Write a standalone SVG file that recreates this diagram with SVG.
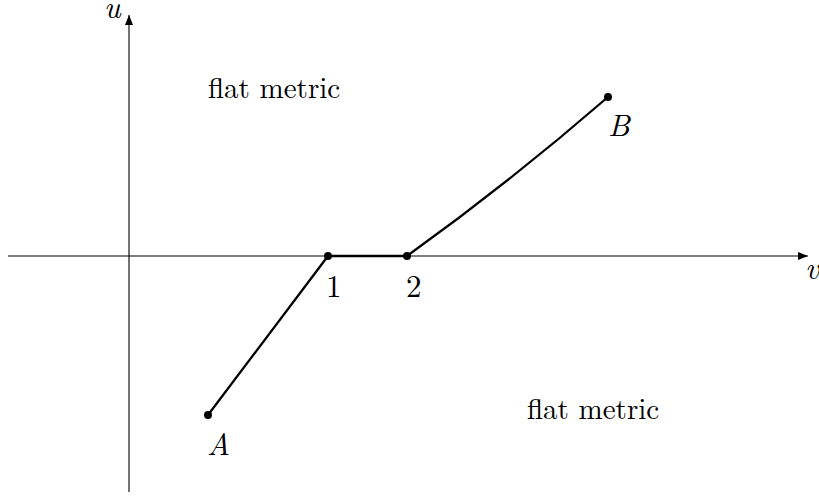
<svg xmlns="http://www.w3.org/2000/svg" width="819" height="501" viewBox="0 0 819 501">
<style>
.axis{stroke:#000;stroke-width:1.1;fill:none}
.path{stroke:#000;stroke-width:2.3;fill:none;stroke-linecap:round}
text{font-family:"Latin Modern Roman","Liberation Serif","DejaVu Serif",serif;font-size:29px;fill:#000}
.it{font-style:italic}
.lbl{font-size:31px}
</style>
<defs>
<marker id="arr" viewBox="0 0 10 10" refX="10" refY="5" markerWidth="10" markerHeight="10" markerUnits="userSpaceOnUse" orient="auto">
<path d="M0,1 L10,5 L0,9 Z" fill="#000"/>
</marker>
</defs>
<g id="connectors">
<line class="axis" x1="129" y1="492" x2="129" y2="15" marker-end="url(#arr)"/>
<line class="axis" x1="8" y1="256" x2="808" y2="256" marker-end="url(#arr)"/>
<path class="path" d="M208,415 L328,256 L407,256 Q510,182 608,97"/>
</g>
<g id="labels">
<text class="it lbl" x="104" y="18">u</text>
<text class="it lbl" x="805" y="279">v</text>
</g>
<g id="A"><circle cx="208" cy="415" r="4"/><text class="it lbl" x="207" y="455">A</text></g>
<g id="p1"><circle cx="328" cy="256" r="4"/><text class="lbl" x="326" y="297">1</text></g>
<g id="p2"><circle cx="407" cy="256" r="4"/><text class="lbl" x="406" y="297">2</text></g>
<g id="B"><circle cx="608" cy="97" r="4"/><text class="it lbl" x="608" y="136">B</text></g>
<g id="region1"><text x="208" y="98">flat metric</text></g>
<g id="region2"><text x="527" y="419">flat metric</text></g>
</svg>
